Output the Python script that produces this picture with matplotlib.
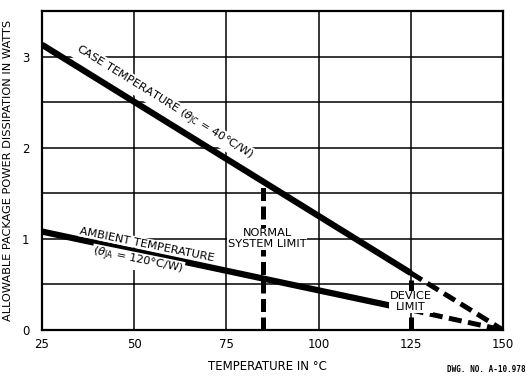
import matplotlib
matplotlib.use("Agg")
import matplotlib.pyplot as plt

# Data
case_x = [25, 125]
case_y = [3.13, 0.625]
case_derate_x = [125, 150]
case_derate_y = [0.625, 0.0]

amb_x = [25, 125]
amb_y = [1.08, 0.22]
amb_derate_x = [125, 150]
amb_derate_y = [0.22, 0.0]

normal_limit_x = 85
normal_limit_top = 1.625
device_limit_x = 125
device_limit_top = 0.625

x_ticks = [25, 50, 75, 100, 125, 150]
y_ticks = [0, 1, 2, 3]
y_grid = [0.5, 1.0, 1.5, 2.0, 2.5, 3.0]

plt.rcParams['mathtext.fontset'] = 'dejavusans'
plt.rcParams['font.family'] = ['DejaVu Sans']

fig = plt.figure(figsize=(5.27, 3.79), dpi=100)
ax = fig.add_axes([42/527, 1-330/379, (503-42)/527, (330-11)/379])

ax.set_xlim(25, 150)
ax.set_ylim(0, 3.5)

# grid
for g in x_ticks[1:-1]:
    ax.axvline(g, color='black', lw=1.1, zorder=1)
for g in y_grid:
    ax.axhline(g, color='black', lw=1.1, zorder=1)

for s in ax.spines.values():
    s.set_linewidth(1.6)

lw = 4.5
ax.plot(case_x, case_y, color='black', lw=lw, solid_capstyle='butt', zorder=3)
ax.plot(case_derate_x, case_derate_y, color='black', lw=3.6, ls=(0, (2.6, 1.3)), zorder=3)
ax.plot(amb_x, amb_y, color='black', lw=lw, solid_capstyle='butt', zorder=3)
ax.plot(amb_derate_x, amb_derate_y, color='black', lw=3.6, ls=(0, (2.6, 1.3)), zorder=3)

ax.plot([normal_limit_x, normal_limit_x], [0, normal_limit_top], color='black', lw=3.6,
        ls=(0, (2.6, 1.1)), zorder=2)
ax.plot([device_limit_x, device_limit_x], [0, device_limit_top], color='black', lw=3.6,
        ls=(0, (2.6, 1.1)), zorder=2)

ax.set_xticks(x_ticks)
ax.set_yticks(y_ticks)
ax.tick_params(length=0, labelsize=8.5, pad=6)
ax.tick_params(axis='y', pad=9)

ax.set_xlabel('TEMPERATURE IN °C', fontsize=8.5)
ax.xaxis.set_label_coords(0.49, -0.095)
ax.set_ylabel('ALLOWABLE PACKAGE POWER DISSIPATION IN WATTS', fontsize=8.2)
ax.yaxis.set_label_coords(-0.063, 0.5)

bb = dict(facecolor='white', edgecolor='none', pad=0.6)
ax.text(58, 2.49, r'CASE TEMPERATURE ($\theta_{\mathsf{JC}}$ = 40°C/W)', rotation=-31.7,
        ha='center', va='center', fontsize=8.2, zorder=5, bbox=bb, rotation_mode='anchor')
ax.text(53.5, 0.94, 'AMBIENT TEMPERATURE', rotation=-11.5,
        ha='center', va='center', fontsize=8.2, zorder=5, bbox=bb, rotation_mode='anchor')
ax.text(51, 0.75, r'($\theta_{\mathsf{JA}}$ = 120°C/W)', rotation=-11.5,
        ha='center', va='center', fontsize=8.2, zorder=5, bbox=bb, rotation_mode='anchor')
ax.text(86, 1.0, 'NORMAL\nSYSTEM LIMIT', ha='center', va='center', fontsize=8.2,
        zorder=5, bbox=bb, linespacing=1.1)
ax.text(125, 0.31, 'DEVICE\nLIMIT', ha='center', va='center', fontsize=8.2,
        zorder=5, bbox=bb, linespacing=1.1)

fig.text(0.998, 0.012, 'DWG. NO. A-10.978', ha='right', va='bottom', fontsize=5.5,
         family='DejaVu Sans Mono', weight='bold')

fig.savefig('out.png', dpi=100)
